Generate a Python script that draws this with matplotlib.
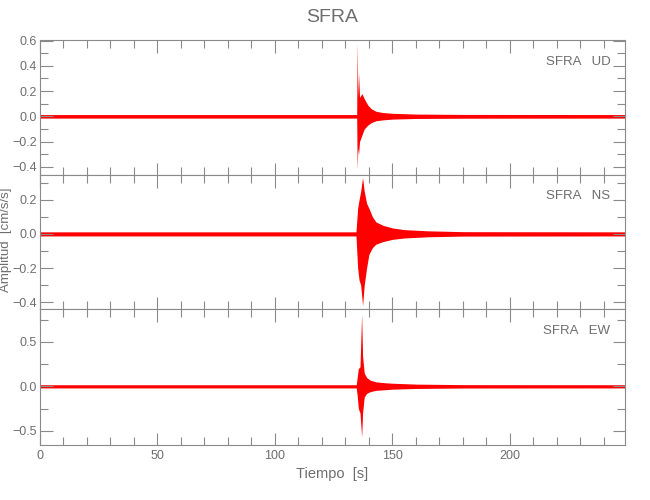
import matplotlib
matplotlib.use("Agg")
import matplotlib.pyplot as plt
from matplotlib.ticker import MultipleLocator, FuncFormatter

plt.rcParams['font.family'] = ['Liberation Sans', 'DejaVu Sans']

title = "SFRA"
components = ["UD", "NS", "EW"]
ylabel = "Amplitud  [cm/s/s]"
xlabel = "Tiempo  [s]"

# Envelope of each trace (time [s], upper, lower)
ud_t = [0, 134.8, 135.0, 135.3, 135.6, 136.0, 137.0, 138.0, 139.5, 141.0, 143.0, 146.0, 150.0, 160.0, 180.0, 249.0]
ud_up = [0.014, 0.014, 0.58, 0.15, 0.34, 0.15, 0.18, 0.14, 0.09, 0.06, 0.04, 0.03, 0.024, 0.018, 0.015, 0.014]
ud_lo = [-0.014, -0.014, -0.42, -0.25, -0.30, -0.20, -0.15, -0.10, -0.07, -0.05, -0.035, -0.028, -0.022, -0.017, -0.015, -0.014]

ns_t = [0, 134.5, 135.2, 135.8, 136.5, 137.3, 138.0, 139.0, 140.0, 141.5, 143.0, 146.0, 150.0, 155.0, 165.0, 180.0, 249.0]
ns_up = [0.012, 0.012, 0.15, 0.20, 0.25, 0.33, 0.25, 0.18, 0.15, 0.10, 0.07, 0.05, 0.035, 0.025, 0.018, 0.013, 0.012]
ns_lo = [-0.012, -0.012, -0.20, -0.27, -0.30, -0.42, -0.30, -0.20, -0.12, -0.08, -0.06, -0.045, -0.032, -0.024, -0.017, -0.013, -0.012]

ew_t = [0, 134.6, 135.0, 135.5, 136.2, 136.9, 137.3, 138.0, 139.0, 140.5, 143.0, 147.0, 150.0, 155.0, 160.0, 180.0, 249.0]
ew_up = [0.018, 0.018, 0.10, 0.20, 0.22, 0.81, 0.34, 0.15, 0.10, 0.07, 0.05, 0.04, 0.035, 0.03, 0.025, 0.019, 0.018]
ew_lo = [-0.018, -0.018, -0.10, -0.25, -0.30, -0.57, -0.30, -0.12, -0.08, -0.06, -0.045, -0.038, -0.032, -0.028, -0.024, -0.019, -0.018]

traces = [(ud_t, ud_up, ud_lo), (ns_t, ns_up, ns_lo), (ew_t, ew_up, ew_lo)]
ylims = [(-0.465, 0.605), (-0.44, 0.345), (-0.66, 0.87)]
ymajor = [0.2, 0.2, 0.5]
yminor = [0.1, 0.1, 0.25]
xlim = (0, 249)

gray = '#8a8a8a'
tgray = '#6e6e6e'


def fmt(v, pos):
    s = f"{v:.1f}"
    if s == "-0.0":
        s = "0.0"
    return s.replace("-", "\u2212")


fig = plt.figure(figsize=(6.5, 5), dpi=100)
left, right = 40 / 650, 625 / 650
tops = [40, 175, 309]
bots = [175, 309, 445]
axes = []
for i in range(3):
    y0 = 1 - bots[i] / 500
    h = (bots[i] - tops[i]) / 500
    ax = fig.add_axes([left, y0, right - left, h])
    axes.append(ax)
    t, up, lo = traces[i]
    ax.fill_between(t, lo, up, color='red', lw=0)
    ax.set_xlim(*xlim)
    ax.set_ylim(*ylims[i])
    ax.xaxis.set_major_locator(MultipleLocator(50))
    ax.xaxis.set_minor_locator(MultipleLocator(10))
    ax.yaxis.set_major_locator(MultipleLocator(ymajor[i]))
    ax.yaxis.set_minor_locator(MultipleLocator(yminor[i]))
    ax.yaxis.set_major_formatter(FuncFormatter(fmt))
    ax.tick_params(which='both', direction='in', top=True, right=True,
                   color=gray, labelcolor=tgray, labelsize=9, width=0.8)
    ax.tick_params(axis='y', pad=2)
    ax.tick_params(which='major', length=9)
    ax.tick_params(which='minor', length=6)
    for s in ax.spines.values():
        s.set_color(gray)
        s.set_linewidth(0.8)
    if i < 2:
        ax.tick_params(labelbottom=False)
    ax.text(0.975, 0.84, f"{title}   {components[i]}", transform=ax.transAxes,
            ha='right', va='center', color=tgray, fontsize=9.5)

axes[2].set_xlabel(xlabel, color=tgray, fontsize=10.5, labelpad=4)
fig.text(6 / 650, 1 - 240 / 500, ylabel, rotation=90, ha='center', va='center',
         color=tgray, fontsize=9.5)
fig.text((left + right) / 2, 1 - 18 / 500, title, ha='center', va='center',
         color=tgray, fontsize=14)

fig.savefig('out.png', dpi=100)
